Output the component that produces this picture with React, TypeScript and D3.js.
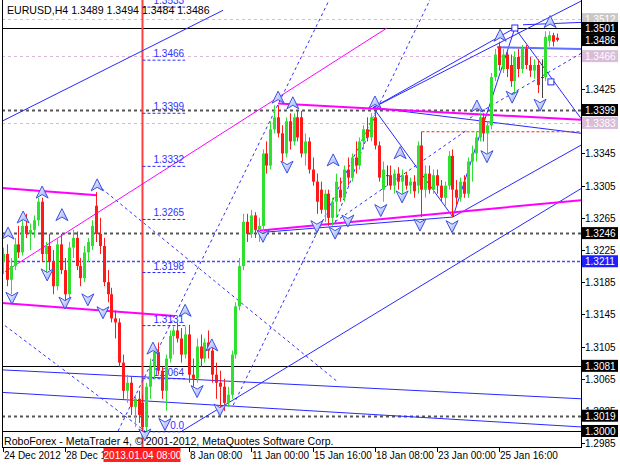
import React from 'react';
import * as d3 from 'd3';

// ---------- DATA ----------
// H4 candles: [open, high, low, close], bar 0 = 24 Dec 2012 00:00
const candles: [number, number, number, number][] = [
  [1.3210, 1.3228, 1.3195, 1.3220], [1.3220, 1.3232, 1.3180, 1.3188], [1.3188, 1.3215, 1.3170, 1.3205],
  [1.3205, 1.3240, 1.3200, 1.3232], [1.3232, 1.3255, 1.3215, 1.3222], [1.3222, 1.3262, 1.3218, 1.3255],
  [1.3255, 1.3270, 1.3240, 1.3245], [1.3245, 1.3258, 1.3225, 1.3250], [1.3250, 1.3268, 1.3240, 1.3262],
  [1.3262, 1.3290, 1.3255, 1.3285], [1.3285, 1.3290, 1.3210, 1.3220], [1.3220, 1.3235, 1.3195, 1.3230],
  [1.3230, 1.3245, 1.3200, 1.3210], [1.3210, 1.3225, 1.3170, 1.3180], [1.3180, 1.3240, 1.3175, 1.3232],
  [1.3232, 1.3245, 1.3195, 1.3200], [1.3200, 1.3215, 1.3160, 1.3170], [1.3170, 1.3235, 1.3165, 1.3228],
  [1.3228, 1.3250, 1.3215, 1.3240], [1.3240, 1.3248, 1.3200, 1.3205], [1.3205, 1.3215, 1.3180, 1.3190],
  [1.3190, 1.3230, 1.3185, 1.3222], [1.3222, 1.3240, 1.3210, 1.3235], [1.3230, 1.3262, 1.3225, 1.3255],
  [1.3280, 1.3297, 1.3235, 1.3245], [1.3245, 1.3265, 1.3220, 1.3230], [1.3230, 1.3240, 1.3180, 1.3185],
  [1.3185, 1.3200, 1.3160, 1.3170], [1.3170, 1.3178, 1.3135, 1.3140], [1.3140, 1.3150, 1.3115, 1.3135],
  [1.3135, 1.3140, 1.3080, 1.3085], [1.3085, 1.3095, 1.3040, 1.3050], [1.3050, 1.3070, 1.3035, 1.3060],
  [1.3060, 1.3068, 1.3020, 1.3030], [1.3030, 1.3045, 1.3005, 1.3040], [1.3040, 1.3050, 1.3010, 1.3020],
  [1.3035, 1.3045, 1.2998, 1.3005], [1.3005, 1.3060, 1.3000, 1.3055], [1.3055, 1.3090, 1.3040, 1.3080],
  [1.3080, 1.3105, 1.3065, 1.3098], [1.3098, 1.3110, 1.3070, 1.3075], [1.3075, 1.3080, 1.3040, 1.3050],
  [1.3050, 1.3095, 1.3025, 1.3090], [1.3090, 1.3125, 1.3085, 1.3118], [1.3118, 1.3130, 1.3095, 1.3125],
  [1.3125, 1.3135, 1.3110, 1.3115], [1.3115, 1.3128, 1.3085, 1.3095], [1.3095, 1.3130, 1.3090, 1.3120],
  [1.3120, 1.3132, 1.3060, 1.3070], [1.3070, 1.3090, 1.3055, 1.3065], [1.3065, 1.3115, 1.3060, 1.3105],
  [1.3105, 1.3120, 1.3080, 1.3090], [1.3090, 1.3115, 1.3085, 1.3110], [1.3110, 1.3125, 1.3090, 1.3100],
  [1.3100, 1.3110, 1.3060, 1.3070], [1.3070, 1.3085, 1.3040, 1.3060], [1.3060, 1.3075, 1.3030, 1.3055],
  [1.3055, 1.3065, 1.3025, 1.3035], [1.3035, 1.3055, 1.3030, 1.3045], [1.3045, 1.3100, 1.3040, 1.3095],
  [1.3095, 1.3160, 1.3090, 1.3155], [1.3155, 1.3215, 1.3150, 1.3205], [1.3205, 1.3270, 1.3200, 1.3260],
  [1.3260, 1.3270, 1.3235, 1.3245], [1.3245, 1.3275, 1.3240, 1.3268], [1.3268, 1.3272, 1.3240, 1.3250],
  [1.3250, 1.3265, 1.3235, 1.3255], [1.3255, 1.3350, 1.3245, 1.3345], [1.3345, 1.3360, 1.3320, 1.3330],
  [1.3330, 1.3385, 1.3325, 1.3375], [1.3375, 1.3405, 1.3370, 1.3390], [1.3390, 1.3405, 1.3365, 1.3370],
  [1.3370, 1.3380, 1.3335, 1.3345], [1.3345, 1.3390, 1.3340, 1.3385], [1.3385, 1.3395, 1.3350, 1.3360],
  [1.3360, 1.3395, 1.3355, 1.3390], [1.3390, 1.3398, 1.3360, 1.3365], [1.3390, 1.3398, 1.3340, 1.3345],
  [1.3345, 1.3370, 1.3330, 1.3360], [1.3360, 1.3365, 1.3320, 1.3325], [1.3325, 1.3340, 1.3305, 1.3310],
  [1.3310, 1.3320, 1.3270, 1.3285], [1.3300, 1.3310, 1.3270, 1.3275], [1.3275, 1.3300, 1.3260, 1.3295],
  [1.3295, 1.3300, 1.3255, 1.3265], [1.3265, 1.3290, 1.3255, 1.3285], [1.3285, 1.3320, 1.3265, 1.3310],
  [1.3300, 1.3315, 1.3285, 1.3290], [1.3290, 1.3330, 1.3285, 1.3325], [1.3325, 1.3340, 1.3305, 1.3315],
  [1.3315, 1.3345, 1.3310, 1.3340], [1.3340, 1.3360, 1.3320, 1.3330], [1.3330, 1.3365, 1.3325, 1.3360],
  [1.3360, 1.3380, 1.3350, 1.3375], [1.3375, 1.3390, 1.3360, 1.3365], [1.3365, 1.3395, 1.3360, 1.3390],
  [1.3390, 1.3400, 1.3350, 1.3355], [1.3355, 1.3360, 1.3310, 1.3315], [1.3300, 1.3335, 1.3285, 1.3325],
  [1.3318, 1.3330, 1.3305, 1.3318], [1.3318, 1.3330, 1.3300, 1.3305], [1.3305, 1.3325, 1.3295, 1.3320],
  [1.3320, 1.3328, 1.3300, 1.3310], [1.3310, 1.3325, 1.3295, 1.3318], [1.3318, 1.3322, 1.3300, 1.3305],
  [1.3305, 1.3315, 1.3295, 1.3310], [1.3310, 1.3318, 1.3290, 1.3298], [1.3305, 1.3360, 1.3295, 1.3355],
  [1.3355, 1.3372, 1.3266, 1.3300], [1.3300, 1.3330, 1.3290, 1.3320], [1.3320, 1.3330, 1.3295, 1.3300],
  [1.3300, 1.3325, 1.3295, 1.3318], [1.3318, 1.3325, 1.3295, 1.3305], [1.3305, 1.3312, 1.3285, 1.3290],
  [1.3290, 1.3310, 1.3280, 1.3305], [1.3305, 1.3348, 1.3300, 1.3342], [1.3342, 1.3350, 1.3266, 1.3300],
  [1.3300, 1.3312, 1.3280, 1.3290], [1.3290, 1.3315, 1.3285, 1.3310], [1.3310, 1.3318, 1.3290, 1.3295],
  [1.3295, 1.3340, 1.3290, 1.3335], [1.3335, 1.3355, 1.3310, 1.3345], [1.3345, 1.3372, 1.3335, 1.3365],
  [1.3365, 1.3395, 1.3360, 1.3390], [1.3390, 1.3395, 1.3360, 1.3370], [1.3370, 1.3385, 1.3345, 1.3380],
  [1.3380, 1.3445, 1.3375, 1.3440], [1.3440, 1.3475, 1.3435, 1.3468], [1.3478, 1.3484, 1.3448, 1.3455],
  [1.3450, 1.3475, 1.3445, 1.3468], [1.3468, 1.3472, 1.3440, 1.3450], [1.3455, 1.3468, 1.3428, 1.3435],
  [1.3435, 1.3472, 1.3420, 1.3465], [1.3465, 1.3475, 1.3440, 1.3450], [1.3450, 1.3480, 1.3445, 1.3475],
  [1.3475, 1.3480, 1.3450, 1.3455], [1.3455, 1.3465, 1.3440, 1.3448], [1.3448, 1.3462, 1.3438, 1.3455],
  [1.3455, 1.3462, 1.3420, 1.3430], [1.3440, 1.3462, 1.3414, 1.3440], [1.3440, 1.3497, 1.3435, 1.3490],
  [1.3485, 1.3497, 1.3478, 1.3492], [1.3492, 1.3495, 1.3478, 1.3484], [1.3489, 1.3494, 1.3484, 1.3486],
];

const symbol = 'EURUSD,H4';
const header = '1.3489 1.3494 1.3484 1.3486';
const copyright = 'RoboForex - MetaTrader 4, \u00A9 2001-2012, MetaQuotes Software Corp.';

// price axis (labels not hidden behind price tags)
const priceTicks = [1.2985, 1.3025, 1.3065, 1.3105, 1.3145, 1.3185, 1.3225, 1.3265, 1.3305, 1.3345, 1.3425];
// time axis (bar index -> label)
const timeTickBars = [0, 16, 48, 64, 80, 96, 112, 128];
const timeTickLabels = ['24 Dec 2012', '28 Dec 12', '8 Jan 08:00', '11 Jan 00:00', '15 Jan 16:00', '18 Jan 08:00', '23 Jan 00:00', '25 Jan 16:00'];
const markerBar = 36;
const markerLabel = '2013.01.04 08:00';

// horizontal price levels
const solidLevels = [1.3501, 1.3081, 1.3000];
const dottedLevels = [1.3399, 1.3246, 1.3019];
const greyLevels = [1.3512];
const pinkLevels = [1.3466, 1.3383];
const blueLevels = [1.3211];
const darkLabels = [1.3501, 1.3486, 1.3399, 1.3246, 1.3081, 1.3019, 1.3000];

// fibonacci expansion levels
const fibPrices = [1.2999, 1.3065, 1.3131, 1.3197, 1.3263, 1.3329, 1.3395, 1.3461, 1.3527];
const fibLabels = ['0.0', '1.3064', '1.3131', '1.3198', '1.3265', '1.3332', '1.3399', '1.3466', '1.3533'];
const fibBars = [36, 47];

// trend lines [bar1, price1, bar2, price2]
const blueSolid: number[][] = [
  [-0.3, 1.3385, 56.8, 1.3523],
  [46.2, 1.3000, 149.4, 1.3302],
  [116.1, 1.3266, 149.4, 1.3356],
  [95.5, 1.3402, 132.1, 1.3501],
  [95.5, 1.3402, 149.4, 1.3535],
  [95.5, 1.3402, 149.4, 1.3370],
  [132.1, 1.3501, 149.4, 1.3387],
  [116.1, 1.3266, 132.1, 1.3501],
  [67.1, 1.3247, 116.1, 1.3266],
  [96.0, 1.3399, 116.1, 1.3266],
  [134.2, 1.3505, 149.4, 1.3508],
  [-0.3, 1.3076, 149.4, 1.3040],
  [-0.3, 1.3048, 149.4, 1.3005],
];
const blueThick: number[][] = [
  [127.5, 1.3477, 149.4, 1.3475],
];
const blueDashed: number[][] = [
  [24.3, 1.3306, 86.4, 1.3061],
  [0.5, 1.3131, 36.6, 1.3000],
  [29.7, 1.3000, 84.2, 1.3536],
  [59.4, 1.3032, 110.2, 1.3536],
  [120.5, 1.3389, 149.4, 1.3470],
  [85.7, 1.3259, 96.5, 1.3399],
  [85.7, 1.3260, 119.7, 1.3374],
];
const magentaThick: number[][] = [
  [-0.3, 1.3302, 24.3, 1.3293],
  [-0.3, 1.3159, 44.4, 1.3143],
  [71.0, 1.3407, 149.4, 1.3387],
  [65.8, 1.3249, 149.4, 1.3287],
];
const magentaThin: number[][] = [
  [0.5, 1.3198, 99.1, 1.3501],
];
const redDashed: number[][] = [
  [108, 1.3372, 149.4, 1.3372],
];

// fractal-like arrow markers [bar, price]
const upArrows: number[][] = [
  [1.3, 1.3246], [5.2, 1.3266], [10.1, 1.3297], [15.2, 1.3269], [24.3, 1.3306], [38.7, 1.3103],
  [47.0, 1.3150], [53.9, 1.3107], [71.0, 1.3415], [74.8, 1.3408], [85.2, 1.3337], [96.0, 1.3409],
  [102.5, 1.3346], [122.3, 1.3404], [128.3, 1.3492], [141.2, 1.3509],
];
const downArrows: number[][] = [
  [2.3, 1.3165], [11.4, 1.3194], [16.0, 1.3159], [21.9, 1.3163], [25.8, 1.3147], [36.6, 1.2995],
  [41.8, 1.3008], [50.1, 1.3049], [56.0, 1.3026], [67.1, 1.3242], [73.3, 1.3328], [81.0, 1.3254],
  [85.7, 1.3246], [89.0, 1.3261], [97.5, 1.3274], [103.0, 1.3291], [107.6, 1.3256], [115.9, 1.3254],
  [124.9, 1.3341], [131.4, 1.3415], [138.6, 1.3405],
];
const handles: number[][] = [[132.1, 1.3501], [141.4, 1.3434]];

// ---------- LAYOUT ----------
const W = 620, H = 465;
const L = 2, R = 581, T = 0, B = 447;
const FONT = "'Liberation Sans', Arial, sans-serif";

export default function App() {
  const y = d3.scaleLinear().domain([1.29801, 1.35358]).range([B, T]);
  const x = d3.scaleLinear().domain([0, 143]).range([3, 557.1]);
  const fmt = d3.format('.4f');

  const seg = (s: number[], k: string, stroke: string, w: number, dash?: string) => (
    <line key={k} x1={x(s[0])} y1={y(s[1])} x2={x(s[2])} y2={y(s[3])} stroke={stroke} strokeWidth={w} strokeDasharray={dash} />
  );
  const hline = (p: number, k: string, stroke: string, w: number, dash?: string) => (
    <line key={k} x1={L} x2={R} y1={Math.round(y(p)) + 0.5} y2={Math.round(y(p)) + 0.5} stroke={stroke} strokeWidth={w} strokeDasharray={dash} />
  );
  const arrowUp = 'M0,-6 L6,6 L0,2.5 L-6,6 Z';
  const arrowDown = 'M0,6 L6,-6 L0,-2.5 L-6,-6 Z';

  const priceLabel = (p: number, k: string, bg: string, fg: string) => {
    const cy = y(p);
    return (
      <g key={k}>
        <rect x={582} y={cy - 6} width={36} height={12} fill={bg} />
        <text x={585} y={cy + 4} fontSize={10} fill={fg} fontFamily={FONT}>{fmt(p)}</text>
      </g>
    );
  };

  return (
    <svg width={W} height={H} style={{ position: 'absolute', left: 0, top: 0, background: '#fff' }}>
      <rect x={0} y={0} width={W} height={H} fill="#fff" />
      <defs>
        <clipPath id="plot"><rect x={L} y={T} width={R - L} height={B - T} /></clipPath>
        <linearGradient id="arr" x1="0" y1="0" x2="1" y2="1">
          <stop offset="0" stopColor="#ffffff" />
          <stop offset="1" stopColor="#8fa0ff" />
        </linearGradient>
      </defs>
      <g clipPath="url(#plot)">
        {greyLevels.map((p, i) => hline(p, 'g' + i, '#c8c8c8', 1, '3,3'))}
        {pinkLevels.map((p, i) => hline(p, 'p' + i, '#dcb4dc', 1, '3,3'))}
        {blueLevels.map((p, i) => hline(p, 'b' + i, '#4848ff', 1.5, '3,2'))}
        {dottedLevels.map((p, i) => hline(p, 'd' + i, '#555', 2, '3,3'))}
        {solidLevels.map((p, i) => hline(p, 's' + i, '#000', 1))}
        <line x1={x(markerBar)} x2={x(markerBar)} y1={T} y2={B} stroke="#ff4040" strokeWidth={2} />
        {magentaThin.map((s, i) => seg(s, 'mt' + i, '#ff00ff', 1))}
        {blueDashed.map((s, i) => seg(s, 'bd' + i, '#3030ff', 1, '3,3'))}
        {blueSolid.map((s, i) => seg(s, 'bs' + i, '#2828ff', 1))}
        {blueThick.map((s, i) => seg(s, 'bt' + i, '#6070ff', 2))}
        {redDashed.map((s, i) => seg(s, 'rd' + i, '#ff2020', 1, '3,2'))}
        {magentaThick.map((s, i) => seg(s, 'mk' + i, '#ff00ff', 2))}
        {fibPrices.map((p, i) => (
          <g key={'f' + i}>
            <line x1={x(fibBars[0])} x2={x(fibBars[1])} y1={y(p)} y2={y(p)} stroke="#2828ff" strokeWidth={1} strokeDasharray="3,2" />
            <text x={x(fibBars[1]) - 1} y={y(p) - 3} fontSize={10} fill="#3030ff" textAnchor="end" fontFamily={FONT}>{fibLabels[i]}</text>
          </g>
        ))}
        {candles.map((c, i) => {
          const [o, h, l, cl] = c;
          const col = cl > o ? '#30e030' : cl < o ? '#ff1a1a' : '#404040';
          const cx = Math.round(x(i)) + 0.5;
          const top = y(Math.max(o, cl));
          const bot = y(Math.min(o, cl));
          return (
            <g key={'c' + i}>
              <line x1={cx} x2={cx} y1={y(h)} y2={y(l)} stroke={col} strokeWidth={1} />
              <rect x={cx - 1.5} y={top} width={3} height={Math.max(1, bot - top)} fill={col} />
            </g>
          );
        })}
        {upArrows.map((a, i) => (
          <path key={'ua' + i} d={arrowUp} transform={`translate(${x(a[0])},${y(a[1])})`} fill="url(#arr)" stroke="#3a50e0" strokeWidth={1} />
        ))}
        {downArrows.map((a, i) => (
          <path key={'da' + i} d={arrowDown} transform={`translate(${x(a[0])},${y(a[1])})`} fill="url(#arr)" stroke="#3a50e0" strokeWidth={1} />
        ))}
        {handles.map((h, i) => (
          <rect key={'h' + i} x={x(h[0]) - 3} y={y(h[1]) - 3} width={6} height={6} fill="#fff" stroke="#2828ff" />
        ))}
        <text x={7} y={14} fontSize={10.6} fontFamily={FONT} fill="#000">{symbol}{' '}{header}</text>
        <text x={4} y={445} fontSize={10.6} fontFamily={FONT} fill="#000">{copyright}</text>
      </g>
      {/* frame */}
      <line x1={L + 0.5} x2={L + 0.5} y1={T} y2={B} stroke="#000" />
      <line x1={R + 0.5} x2={R + 0.5} y1={T} y2={B + 1} stroke="#000" />
      <line x1={L} x2={R} y1={B + 0.5} y2={B + 0.5} stroke="#000" />
      {/* price axis */}
      {priceTicks.map((p, i) => (
        <g key={'pt' + i}>
          <line x1={R} x2={R + 4} y1={Math.round(y(p)) + 0.5} y2={Math.round(y(p)) + 0.5} stroke="#000" />
          <text x={585} y={y(p) + 4} fontSize={10} fontFamily={FONT} fill="#000">{fmt(p)}</text>
        </g>
      ))}
      {greyLevels.map((p, i) => priceLabel(p, 'gl' + i, '#c8c8c8', '#fff'))}
      {pinkLevels.map((p, i) => priceLabel(p, 'pl' + i, '#d8bcd8', '#fff'))}
      {blueLevels.map((p, i) => priceLabel(p, 'bl' + i, '#1e1eff', '#fff'))}
      {darkLabels.map((p, i) => priceLabel(p, 'dl' + i, '#000', '#fff'))}
      {/* time axis */}
      {timeTickBars.map((b, i) => (
        <g key={'tt' + i}>
          <line x1={Math.round(x(b)) + 0.5} x2={Math.round(x(b)) + 0.5} y1={B} y2={B + 5} stroke="#000" />
          <text x={x(b) + 1} y={459} fontSize={10} fontFamily={FONT} fill="#000">{timeTickLabels[i]}</text>
        </g>
      ))}
      <rect x={x(markerBar) - 39} y={448} width={77} height={14} fill="#ff2020" />
      <text x={x(markerBar)} y={459} fontSize={10} fontFamily={FONT} fill="#fff" textAnchor="middle">{markerLabel}</text>
    </svg>
  );
}
